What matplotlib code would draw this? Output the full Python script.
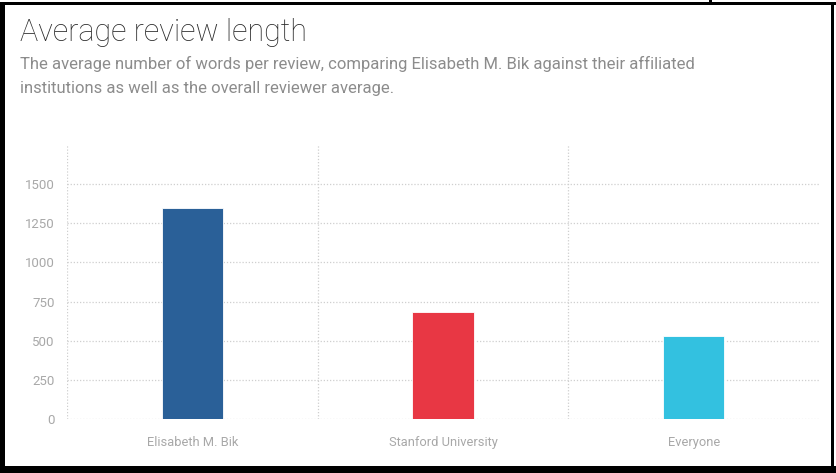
import matplotlib
matplotlib.use("Agg")
import matplotlib.pyplot as plt
from matplotlib.patches import Rectangle

# data
categories = ["Elisabeth M. Bik", "Stanford University", "Everyone"]
avg_words = [1350, 685, 530]
bar_colors = ["#2a6098", "#e83744", "#33c1e0"]
y_ticks = [0, 250, 500, 750, 1000, 1250, 1500]

W, H = 836, 473
fig = plt.figure(figsize=(W / 100, H / 100), dpi=100)
plt.rcParams['font.family'] = ['Roboto', 'DejaVu Sans']


def px(x0, y0, x1, y1):
    # pixel box (top-left origin) -> figure fraction rect
    return (x0 / W, 1 - y1 / H, (x1 - x0) / W, (y1 - y0) / H)


ax = fig.add_axes([67 / W, 1 - 419 / H, (819 - 67) / W, (419 - 145) / H])
xs = list(range(len(categories)))
ax.bar(xs, avg_words, width=0.245, color=bar_colors,
       edgecolor="white", linewidth=0.6, zorder=3)

ax.set_xlim(-0.5, 2.5)
ax.set_ylim(0, 1750)
ax.set_yticks(y_ticks)
ax.set_yticklabels([str(t) for t in y_ticks])
ax.set_xticks(xs)
ax.set_xticklabels(categories)
ax.tick_params(axis="y", length=0, pad=9, labelsize=9.5, labelcolor="#a8a8a8")
ax.tick_params(axis="x", length=0, pad=12, labelsize=9.3, labelcolor="#a8a8a8")

for s in ax.spines.values():
    s.set_visible(False)

grid_kw = dict(color="#cfcfcf", linewidth=0.9, linestyle=(0, (1, 1.5)), zorder=1)
for t in y_ticks:
    ax.axhline(t, **grid_kw)
for b in [-0.5, 0.5, 1.5]:
    ax.axvline(b, **grid_kw)

# title and subtitle
fig.text(20 / W, 1 - 41 / H, "Average review length", fontsize=22,
         fontweight="light", color="#2b2b2b", va="baseline")
fig.text(20 / W, 1 - 69 / H,
         "The average number of words per review, comparing Elisabeth M. Bik against their affiliated",
         fontsize=12, color="#8c8c8c", va="baseline")
fig.text(20 / W, 1 - 93 / H,
         "institutions as well as the overall reviewer average.",
         fontsize=12, color="#8c8c8c", va="baseline")

# black frame around the screenshot
for box in [(0, 2, 836, 5), (0, 2, 5, 473), (0, 466, 836, 473),
            (831, 2, 834, 473), (709, 0, 712, 4)]:
    fig.patches.append(Rectangle(box[:2], box[2], box[3], transform=fig.transFigure,
                                 facecolor="black", edgecolor="none", zorder=10))
    fig.patches[-1].set_bounds(*px(*box))

fig.savefig("out.png", dpi=100)
